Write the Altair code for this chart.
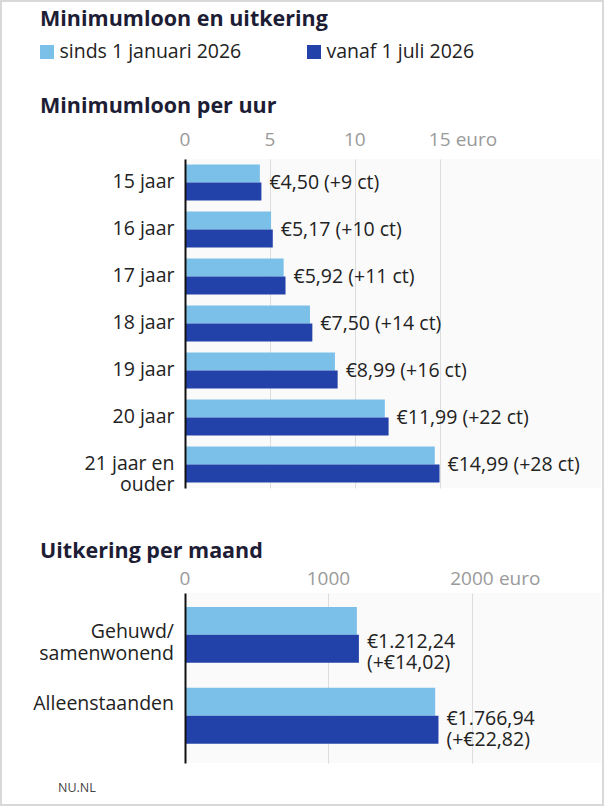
import altair as alt
import pandas as pd

FONT = "Open Sans"
TEXT_DARK = "#222222"
TITLE_DARK = "#1d1d35"
TICK_GREY = "#9a9a9a"

# Series (legend)
series = ["sinds 1 januari 2026", "vanaf 1 juli 2026"]
series_colors = ["#7bc0e9", "#2342a9"]

# Minimum wage per hour (euro)
ages = ["15 jaar", "16 jaar", "17 jaar", "18 jaar", "19 jaar", "20 jaar", "21 jaar en ouder"]
wage_jan = [4.41, 5.07, 5.81, 7.36, 8.83, 11.77, 14.71]
wage_jul = [4.50, 5.17, 5.92, 7.50, 8.99, 11.99, 14.99]
wage_ticks = [0, 5, 10, 15]

# Benefits per month (euro)
groups = ["Gehuwd/samenwonend", "Alleenstaanden"]
group_lines = ["Gehuwd/\nsamenwonend", "Alleenstaanden"]
benefit_jan = [1198.22, 1744.12]
benefit_jul = [1212.24, 1766.94]
benefit_ticks = [0, 1000, 2000]


def eur_nl(v):
    s = f"{v:,.2f}"
    return s.replace(",", "X").replace(".", ",").replace("X", ".")


# ---------- tables ----------
wage_long = pd.DataFrame(
    [(a, series[0], j) for a, j in zip(ages, wage_jan)]
    + [(a, series[1], j) for a, j in zip(ages, wage_jul)],
    columns=["age", "series", "value"],
)
wage_wide = pd.DataFrame({
    "age": ages,
    "jul": wage_jul,
    "label": [f"€{eur_nl(n)} (+{round((n - o) * 100)} ct)" for o, n in zip(wage_jan, wage_jul)],
})

benefit_long = pd.DataFrame(
    [(g, series[0], j) for g, j in zip(groups, benefit_jan)]
    + [(g, series[1], j) for g, j in zip(groups, benefit_jul)],
    columns=["group", "series", "value"],
)
benefit_wide = pd.DataFrame({
    "group": groups,
    "line_label": group_lines,
    "jul": benefit_jul,
    "label": [f"€{eur_nl(n)}\n(+€{eur_nl(n - o)})" for o, n in zip(benefit_jan, benefit_jul)],
})

color_enc = alt.Color("series:N", scale=alt.Scale(domain=series, range=series_colors), legend=None)


def one_text(txt):
    return alt.Chart(pd.DataFrame({"t": [txt]}))


# ---------- panel 1: minimum wage ----------
W = 416
H1 = 329
H2 = 170

x1 = alt.Scale(domain=[0, 24.5], nice=False, zero=True)
y1_sort = ages

bars1 = alt.Chart(wage_long).mark_bar().encode(
    x=alt.X("value:Q", scale=x1, title=None,
            axis=alt.Axis(orient="top", values=wage_ticks, grid=True, gridColor="#dddddd",
                          gridWidth=1, labels=False, ticks=False, domain=False, zindex=0)),
    y=alt.Y("age:N", sort=y1_sort, title=None,
            scale=alt.Scale(paddingInner=0.234, paddingOuter=0.117),
            axis=alt.Axis(ticks=False, domainColor="#111111", domainWidth=2, labelFont=FONT,
                          labelFontSize=19.5, labelColor=TEXT_DARK, labelBaseline="alphabetic",
                          labelOffset=5, labelPadding=11, labelLineHeight=21, zindex=1,
                          labelExpr="datum.label == '21 jaar en ouder' ? ['21 jaar en', 'ouder'] : datum.label")),
    yOffset=alt.YOffset("series:N", sort=series, scale=alt.Scale(paddingInner=0, paddingOuter=0)),
    color=color_enc,
)

values1 = alt.Chart(wage_wide).mark_text(
    align="left", baseline="middle", dx=8, font=FONT, fontSize=19.5, color=TEXT_DARK
).encode(
    x=alt.X("jul:Q", title=None),
    y=alt.Y("age:N", sort=y1_sort, title=None),
    text="label:N",
)

ticks1 = alt.Chart(pd.DataFrame({"tick": wage_ticks})).mark_text(
    align="center", baseline="middle", font=FONT, fontSize=19, color=TICK_GREY
).encode(x=alt.X("tick:Q", title=None), y=alt.value(-19.5), text="tick:Q")

unit1 = alt.Chart(pd.DataFrame({"tick": [wage_ticks[-1]], "unit": ["euro"]})).mark_text(
    align="left", baseline="middle", dx=16, font=FONT, fontSize=19, color=TICK_GREY
).encode(x=alt.X("tick:Q", title=None), y=alt.value(-19.5), text="unit:N")

main_title = one_text("Minimumloon en uitkering").mark_text(
    align="left", baseline="alphabetic", font=FONT, fontSize=21.5, fontWeight="bold", color=TITLE_DARK
).encode(x=alt.value(-145), y=alt.value(-133), text="t:N")

sub_title1 = one_text("Minimumloon per uur").mark_text(
    align="left", baseline="alphabetic", font=FONT, fontSize=21.5, fontWeight="bold", color=TITLE_DARK
).encode(x=alt.value(-145), y=alt.value(-46), text="t:N")

# legend: swatches and labels
legend_layers = []
for name, col, sx in zip(series, series_colors, [-145, 122]):
    legend_layers.append(
        one_text(name).mark_rect(color=col).encode(
            x=alt.value(sx), x2=alt.value(sx + 14), y=alt.value(-114), y2=alt.value(-100)
        )
    )
    legend_layers.append(
        one_text(name).mark_text(
            align="left", baseline="middle", font=FONT, fontSize=19.5, color=TEXT_DARK
        ).encode(x=alt.value(sx + 19.5), y=alt.value(-107), text="t:N")
    )

# thin frame around the whole graphic
frame = one_text("").mark_rect(filled=False, stroke="#d9d9d9", strokeWidth=2).encode(
    x=alt.value(-184), x2=alt.value(418), y=alt.value(-158), y2=alt.value(646)
)

panel1 = alt.layer(
    bars1, values1, ticks1, unit1, main_title, sub_title1, *legend_layers, frame
).properties(width=W, height=H1)

# ---------- panel 2: benefits ----------
x2 = alt.Scale(domain=[0, 2900], nice=False, zero=True)

bars2 = alt.Chart(benefit_long).mark_bar().encode(
    x=alt.X("value:Q", scale=x2, title=None,
            axis=alt.Axis(orient="top", values=benefit_ticks, grid=True, gridColor="#dddddd",
                          gridWidth=1, labels=False, ticks=False, domain=False, zindex=0)),
    y=alt.Y("group:N", sort=groups, title=None,
            scale=alt.Scale(paddingInner=0.309, paddingOuter=0.204, align=0.42),
            axis=alt.Axis(ticks=False, labels=False, domainColor="#111111", domainWidth=2, zindex=1)),
    yOffset=alt.YOffset("series:N", sort=series, scale=alt.Scale(paddingInner=0, paddingOuter=0)),
    color=color_enc,
)

row_label_layers = []
for g, dy_val, dy_lab in zip(groups, [13, 9], [3, -6]):
    row = benefit_wide[benefit_wide["group"] == g]
    row_label_layers.append(
        alt.Chart(row).mark_text(
            align="left", baseline="alphabetic", dx=8, dy=dy_val, font=FONT, fontSize=19.5,
            color=TEXT_DARK, lineBreak="\n", lineHeight=21
        ).encode(
            x=alt.X("jul:Q", title=None),
            y=alt.Y("group:N", sort=groups, title=None),
            text="label:N",
        )
    )
    row_label_layers.append(
        alt.Chart(row).mark_text(
            align="right", baseline="alphabetic", dy=dy_lab, font=FONT, fontSize=19.5,
            color=TEXT_DARK, lineBreak="\n", lineHeight=22
        ).encode(
            x=alt.value(-11),
            y=alt.Y("group:N", sort=groups, title=None),
            text="line_label:N",
        )
    )

ticks2 = alt.Chart(pd.DataFrame({"tick": benefit_ticks})).mark_text(
    align="center", baseline="middle", font=FONT, fontSize=19, color=TICK_GREY
).encode(x=alt.X("tick:Q", title=None), y=alt.value(-14), text="tick:Q")

unit2 = alt.Chart(pd.DataFrame({"tick": [benefit_ticks[-1]], "unit": ["euro"]})).mark_text(
    align="left", baseline="middle", dx=27, font=FONT, fontSize=19, color=TICK_GREY
).encode(x=alt.X("tick:Q", title=None), y=alt.value(-14), text="unit:N")

sub_title2 = one_text("Uitkering per maand").mark_text(
    align="left", baseline="alphabetic", font=FONT, fontSize=21.5, fontWeight="bold", color=TITLE_DARK
).encode(x=alt.value(-145), y=alt.value(-35), text="t:N")

source = one_text("NU.NL").mark_text(
    align="left", baseline="alphabetic", font=FONT, fontSize=12.5, color="#444444"
).encode(x=alt.value(-127), y=alt.value(199), text="t:N")

panel2 = alt.layer(
    bars2, *row_label_layers, ticks2, unit2, sub_title2, source
).properties(width=W, height=H2)

chart = alt.vconcat(panel1, panel2, spacing=105, bounds="flush").resolve_scale(
    x="independent", y="independent", yOffset="independent"
).configure(
    padding=0, background="white"
).configure_view(fill="#fafafa", stroke=None)

chart.save("out.html", embed_options={"renderer": "svg", "actions": False})
